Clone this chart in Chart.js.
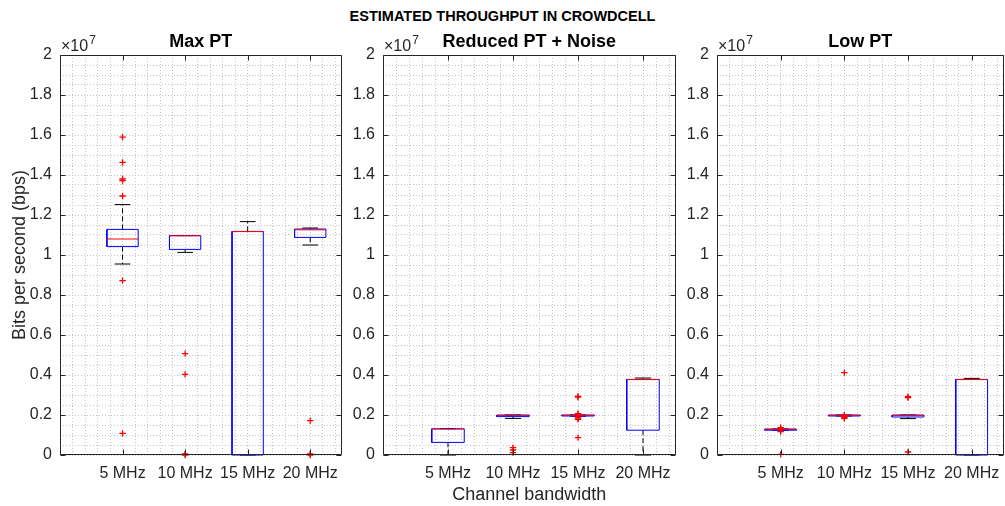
<!DOCTYPE html>
<html><head><meta charset="utf-8">
<script src="https://cdn.jsdelivr.net/npm/chart.js@4.4.1/dist/chart.umd.min.js"></script>
<style>
html,body{margin:0;padding:0;background:#fff;overflow:hidden;}
#wrap{position:relative;width:1005px;height:506px;overflow:hidden;background:#fff;}
canvas{position:absolute;top:0;}
#sup{position:absolute;left:0;top:8px;width:1005px;text-align:center;font:bold 14.5px "Liberation Sans",Arial,sans-serif;line-height:17px;color:#000;}
</style></head>
<body><div id="wrap">
<div id="sup">ESTIMATED THROUGHPUT IN CROWDCELL</div>
<canvas id="c0"></canvas><canvas id="c1"></canvas><canvas id="c2"></canvas>
</div>
<script>
// ---- data (values in units of 10^7 bits per second) ----
const categories = ['5 MHz', '10 MHz', '15 MHz', '20 MHz'];
const panelTitles = ['Max PT', 'Reduced PT + Noise', 'Low PT'];
const yTickValues = [0, 0.2, 0.4, 0.6, 0.8, 1, 1.2, 1.4, 1.6, 1.8, 2];

// Max PT
const maxWhiskerLow  = [0.955, 1.013, 0,     1.05];
const maxQ1          = [1.042, 1.028, 0,     1.088];
const maxMedian      = [1.08,  1.096, 1.117, 1.126];
const maxQ3          = [1.128, 1.097, 1.118, 1.13];
const maxWhiskerHigh = [1.252, 1.097, 1.167, 1.135];
const maxOutliers    = [[1.589, 1.463, 1.38, 1.372, 1.295, 0.872, 0.108], [0.507, 0.403, 0.005, 0], [], [0.172, 0.005, 0]];

// Reduced PT + Noise
const redWhiskerLow  = [0,     0.183, 0.194, 0];
const redQ1          = [0.063, 0.192, 0.195, 0.124];
const redMedian      = [0.13,  0.197, 0.198, 0.377];
const redQ3          = [0.131, 0.2,   0.2,   0.378];
const redWhiskerHigh = [0.132, 0.2,   0.2,   0.385];
const redOutliers    = [[], [0.037, 0.025, 0.012], [0.293, 0.289, 0.207, 0.203, 0.19, 0.185, 0.178, 0.087], []];

// Low PT
const lowWhiskerLow  = [0.124, 0.195, 0.182, 0];
const lowQ1          = [0.124, 0.195, 0.19,  0];
const lowMedian      = [0.128, 0.198, 0.197, 0.377];
const lowQ3          = [0.13,  0.2,   0.2,   0.378];
const lowWhiskerHigh = [0.13,  0.2,   0.2,   0.383];
const lowOutliers    = [[0.137, 0.132, 0.127, 0.117, 0.003], [0.412, 0.2, 0.193, 0.188, 0.183], [0.292, 0.287, 0.015], []];

// ---- styling / layout ----
const FONT = '"Liberation Sans", Arial, Helvetica, sans-serif';
const AX = '#262626';
const BOX_HALF = 0.25, CAP_HALF = 0.125;

const panels = [
  {title: panelTitles[0], wl: maxWhiskerLow, q1: maxQ1, med: maxMedian, q3: maxQ3, wh: maxWhiskerHigh, out: maxOutliers,
   left: 0, width: 346, yWidth: 60, yTitle: 'Bits per second (bps)', xTitle: ''},
  {title: panelTitles[1], wl: redWhiskerLow, q1: redQ1, med: redMedian, q3: redQ3, wh: redWhiskerHigh, out: redOutliers,
   left: 343, width: 337, yWidth: 40, yTitle: '', xTitle: 'Channel bandwidth'},
  {title: panelTitles[2], wl: lowWhiskerLow, q1: lowQ1, med: lowMedian, q3: lowQ3, wh: lowWhiskerHigh, out: lowOutliers,
   left: 677, width: 331, yWidth: 40, yTitle: '', xTitle: ''}
];

function lineDs(data, color, order, dash) {
  return {type: 'scatter', data, showLine: true, borderColor: color, backgroundColor: color, borderWidth: 1,
          borderDash: dash || [], pointRadius: 0, pointHoverRadius: 0, spanGaps: false, tension: 0,
          fill: false, clip: false, order};
}

function buildDatasets(p) {
  const box = [], med = [], whisk = [], caps = [], outs = [];
  categories.forEach((c, i) => {
    const x = i + 1;
    box.push({x: x - BOX_HALF, y: p.q1[i]}, {x: x + BOX_HALF, y: p.q1[i]}, {x: x + BOX_HALF, y: p.q3[i]},
             {x: x - BOX_HALF, y: p.q3[i]}, {x: x - BOX_HALF, y: p.q1[i]}, {x: x, y: null});
    med.push({x: x - BOX_HALF, y: p.med[i]}, {x: x + BOX_HALF, y: p.med[i]}, {x: x, y: null});
    whisk.push({x: x, y: p.q3[i]}, {x: x, y: p.wh[i]}, {x: x, y: null},
               {x: x, y: p.q1[i]}, {x: x, y: p.wl[i]}, {x: x, y: null});
    caps.push({x: x - CAP_HALF, y: p.wh[i]}, {x: x + CAP_HALF, y: p.wh[i]}, {x: x, y: null},
              {x: x - CAP_HALF, y: p.wl[i]}, {x: x + CAP_HALF, y: p.wl[i]}, {x: x, y: null});
    p.out[i].forEach(v => outs.push({x: x, y: v}));
  });
  return [
    lineDs(whisk, '#000000', 5, [5, 3]),
    lineDs(caps, '#000000', 4),
    lineDs(box, '#0000ff', 3),
    lineDs(med, '#ff0000', 2),
    {type: 'scatter', data: outs, showLine: false, pointStyle: 'cross', pointRadius: 3.2, pointHoverRadius: 3.2,
     borderColor: '#ff0000', backgroundColor: '#ff0000', borderWidth: 1.3, clip: false, order: 1}
  ];
}

const framePlugin = {
  id: 'frame',
  afterDraw(chart) {
    const {ctx, chartArea: a, scales} = chart;
    const xs = scales.x, ys = scales.y;
    const L = Math.round(a.left) + 0.5, R = Math.round(a.right) - 0.5;
    const T = Math.round(a.top) + 0.5, B = Math.round(a.bottom) - 0.5;
    ctx.save();
    ctx.strokeStyle = AX; ctx.lineWidth = 1;
    ctx.beginPath();
    ctx.moveTo(L, T); ctx.lineTo(R, T); ctx.lineTo(R, B); ctx.lineTo(L, B); ctx.closePath();
    yTickValues.forEach(v => {
      const py = Math.round(ys.getPixelForValue(v)) + 0.5;
      ctx.moveTo(L, py); ctx.lineTo(L + 5, py);
      ctx.moveTo(R, py); ctx.lineTo(R - 5, py);
    });
    categories.forEach((c, i) => {
      const px = Math.round(xs.getPixelForValue(i + 1)) + 0.5;
      ctx.moveTo(px, T); ctx.lineTo(px, T + 5);
      ctx.moveTo(px, B); ctx.lineTo(px, B - 5);
    });
    ctx.stroke();
    // exponent label
    ctx.fillStyle = AX;
    ctx.textBaseline = 'alphabetic';
    ctx.textAlign = 'left';
    ctx.font = '16px ' + FONT;
    const base = '\u00d710';
    ctx.fillText(base, a.left + 1, a.top - 4);
    const w = ctx.measureText(base).width;
    ctx.font = '12px ' + FONT;
    ctx.fillText('7', a.left + 1 + w + 1, a.top - 11);
    ctx.restore();
  }
};

panels.forEach((p, k) => {
  const cv = document.getElementById('c' + k);
  cv.width = p.width; cv.height = 506;
  cv.style.left = p.left + 'px';
  cv.style.width = p.width + 'px'; cv.style.height = '506px';
  new Chart(cv, {
    type: 'scatter',
    data: {datasets: buildDatasets(p)},
    options: {
      responsive: false, animation: false, devicePixelRatio: 1,
      events: [],
      layout: {padding: {left: 0, right: 2, top: 0, bottom: 0}},
      plugins: {
        legend: {display: false}, tooltip: {enabled: false},
        title: {display: true, text: p.title, fullSize: false, color: '#000',
                font: {family: FONT, size: 18, weight: 'bold', lineHeight: 1.2},
                padding: {top: 31, bottom: 2.4}}
      },
      scales: {
        x: {
          type: 'linear', position: 'bottom', min: 0, max: 4.5,
          afterBuildTicks: s => { const t = []; for (let i = 0; i <= 22; i++) t.push({value: Math.round(i * 2) / 10}); s.ticks = t; },
          afterFit: s => { s.height = 51; },
          grid: {display: true, color: '#c4c4c4', lineWidth: 1, drawTicks: false},
          border: {display: false, dash: [1, 2]},
          ticks: {
            autoSkip: false, maxRotation: 0, minRotation: 0, padding: 9, color: AX,
            font: {family: FONT, size: 16},
            callback: v => { const i = Math.round(v); return (Math.abs(v - i) < 1e-6 && i >= 1 && i <= categories.length) ? categories[i - 1] : ''; }
          },
          title: {display: !!p.xTitle, text: p.xTitle, color: AX, font: {family: FONT, size: 18}, padding: {top: 0, bottom: 0}}
        },
        y: {
          type: 'linear', position: 'left', min: 0, max: 2,
          afterBuildTicks: s => { const t = []; for (let i = 0; i <= 40; i++) t.push({value: Math.round(i * 5) / 100}); s.ticks = t; },
          afterFit: s => { s.width = p.yWidth; },
          grid: {display: true, color: '#c4c4c4', lineWidth: 1, drawTicks: false},
          border: {display: false, dash: [1, 2]},
          ticks: {
            autoSkip: false, padding: 8, color: AX,
            font: {family: FONT, size: 16},
            callback: v => yTickValues.some(t => Math.abs(t - v) < 1e-6) ? String(Math.round(v * 10) / 10) : ''
          },
          title: {display: !!p.yTitle, text: p.yTitle, color: AX, font: {family: FONT, size: 18}, padding: {top: 9, bottom: 0}}
        }
      }
    },
    plugins: [framePlugin]
  });
});
</script>
</body></html>
